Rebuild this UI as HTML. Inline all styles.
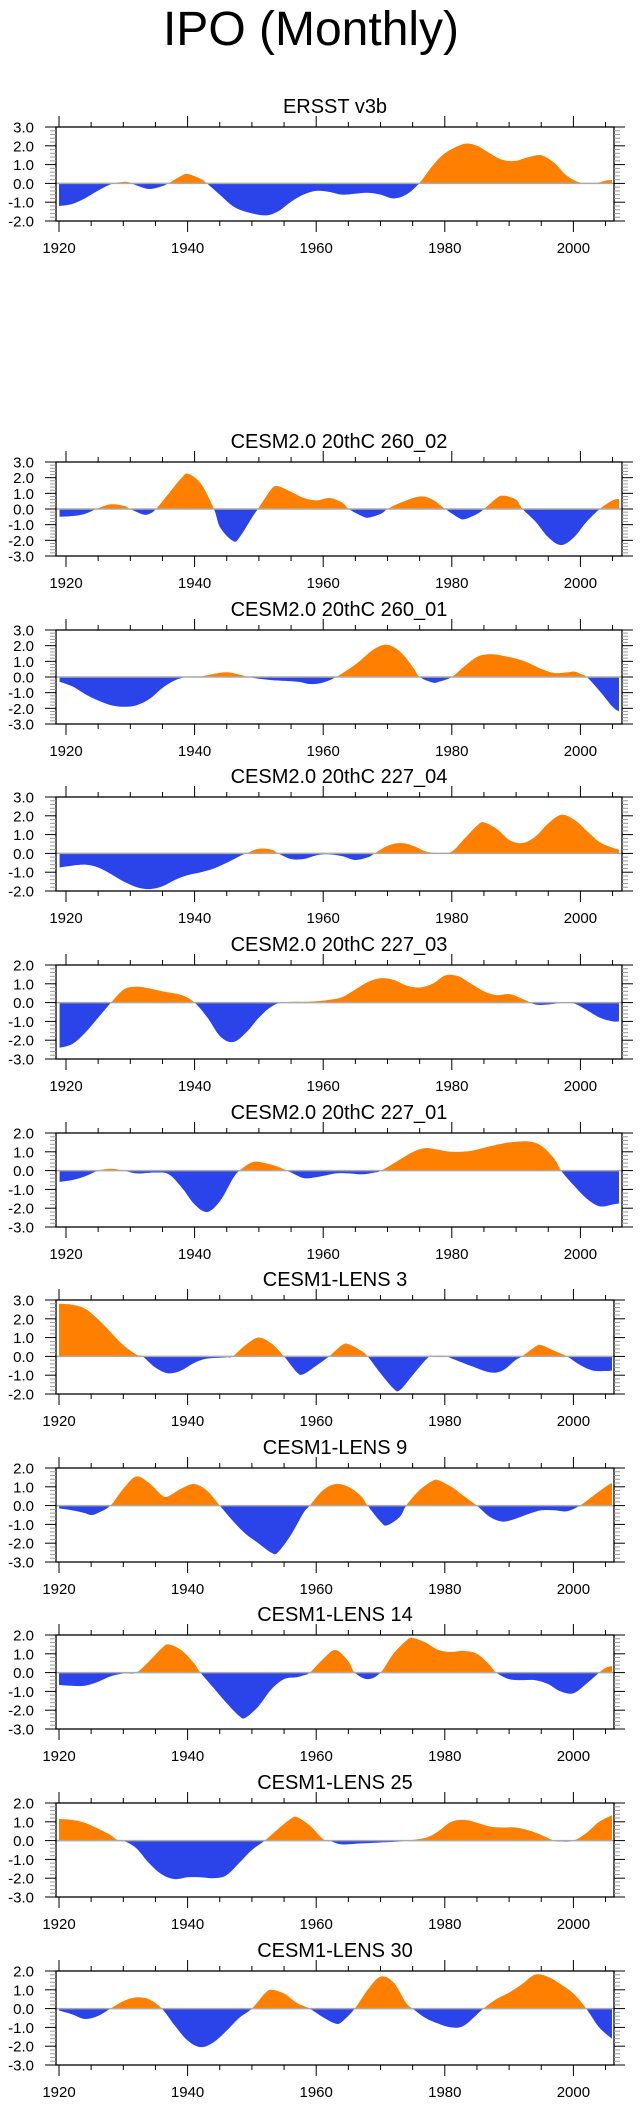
<!DOCTYPE html>
<html><head><meta charset="utf-8">
<style>
html,body{margin:0;padding:0;background:#fff;}
body{width:642px;height:2107px;overflow:hidden;font-family:"Liberation Sans",Arial,sans-serif;}
svg{display:block;}
text{font-family:"Liberation Sans",Arial,sans-serif;fill:#000;}
</style></head>
<body>
<svg id="chart" width="642" height="2107" viewBox="0 0 642 2107" xmlns="http://www.w3.org/2000/svg">
<text x="311" y="45" font-size="48" text-anchor="middle">IPO (Monthly)</text>
</svg>
<script>
const xTickYears = [1920, 1940, 1960, 1980, 2000];
const yTickValues = [-3, -2, -1, 0, 1, 2, 3];
const panelTitles = ["ERSST v3b","CESM2.0 20thC 260_02","CESM2.0 20thC 260_01","CESM2.0 20thC 227_04","CESM2.0 20thC 227_03","CESM2.0 20thC 227_01","CESM1-LENS 3","CESM1-LENS 9","CESM1-LENS 14","CESM1-LENS 25","CESM1-LENS 30"];
const panelYMax = [3,3,3,3,2,2,3,2,2,2,2];
const panelYMin = [-2,-3,-3,-2,-3,-3,-2,-3,-3,-3,-3];

const ersstYears = [1920,1922,1924,1926,1928,1930,1931,1932,1934,1936,1937,1939,1940,1942,1943,1945,1947,1949,1952,1954,1956,1958,1960,1962,1964,1966,1968,1970,1972,1974,1976,1978,1980,1983,1985,1987,1989,1991,1993,1995,1997,1999,2001,2003,2004,2005,2006];
const ersstValues = [-1.2,-1.1,-0.8,-0.4,-0.05,0.08,0.05,-0.1,-0.3,-0.15,0,0.4,0.5,0.25,0,-0.6,-1.2,-1.5,-1.7,-1.5,-1.0,-0.6,-0.4,-0.45,-0.6,-0.55,-0.5,-0.6,-0.8,-0.6,0,0.9,1.6,2.1,2.0,1.6,1.25,1.2,1.4,1.5,1.1,0.4,0.05,-0.02,0.05,0.15,0.18];

const c26002Years = [1919,1921,1923,1925,1927,1929,1930,1932,1933,1934,1936,1938,1939,1941,1943,1944,1946,1947,1949,1950,1952,1953,1955,1957,1959,1961,1963,1964,1966,1967,1969,1970,1972,1975,1977,1979,1981,1982,1984,1985,1987,1988,1990,1991,1993,1995,1997,1999,2001,2003,2005,2006];
const c26002Values = [-0.5,-0.45,-0.3,0.05,0.3,0.2,0,-0.35,-0.3,0,1.0,2.0,2.25,1.6,0,-1.2,-2.05,-1.8,-0.5,0.1,1.3,1.45,1.1,0.7,0.55,0.7,0.4,0,-0.45,-0.55,-0.3,0,0.4,0.8,0.6,0,-0.55,-0.65,-0.3,0,0.7,0.85,0.6,0,-0.8,-1.8,-2.3,-1.8,-0.8,0,0.55,0.65];

const c26001Years = [1919,1921,1923,1925,1927,1929,1931,1933,1935,1937,1939,1941,1943,1945,1947,1949,1952,1956,1958,1960,1962,1965,1968,1970,1972,1974,1975,1977,1978,1980,1982,1984,1986,1988,1991,1994,1996,1998,1999,2000,2001,2003,2005,2006];
const c26001Values = [-0.3,-0.6,-1.1,-1.5,-1.8,-1.9,-1.8,-1.4,-0.7,-0.2,0.02,0.05,0.2,0.3,0.15,-0.05,-0.2,-0.3,-0.45,-0.35,0,0.8,1.8,2.05,1.6,0.6,0,-0.35,-0.3,0,0.7,1.3,1.45,1.35,1.05,0.5,0.25,0.3,0.35,0.2,0,-0.9,-1.9,-2.2];

const c22704Years = [1919,1921,1923,1925,1927,1929,1931,1933,1935,1937,1939,1941,1943,1945,1947,1948,1950,1952,1953,1955,1957,1959,1961,1963,1965,1967,1968,1970,1972,1974,1976,1978,1980,1982,1984,1985,1987,1989,1991,1993,1995,1997,1999,2001,2003,2005,2006];
const c22704Values = [-0.75,-0.65,-0.6,-0.75,-1.1,-1.5,-1.8,-1.9,-1.75,-1.4,-1.15,-1.0,-0.8,-0.5,-0.15,0,0.25,0.2,0,-0.3,-0.3,-0.1,-0.05,-0.15,-0.35,-0.2,0,0.4,0.55,0.4,0.1,0.02,0.1,0.8,1.5,1.65,1.3,0.7,0.55,0.9,1.6,2.05,1.8,1.2,0.6,0.3,0.2];

const c22703Years = [1919,1921,1923,1925,1927,1929,1931,1933,1935,1938,1940,1942,1944,1946,1948,1950,1952,1954,1958,1961,1963,1965,1967,1969,1971,1973,1975,1977,1979,1981,1983,1985,1987,1989,1991,1993,1995,1997,1999,2001,2003,2005,2006];
const c22703Values = [-2.4,-2.2,-1.6,-0.8,0,0.7,0.85,0.75,0.6,0.4,0,-0.8,-1.8,-2.1,-1.6,-0.8,-0.2,0.02,0.05,0.15,0.3,0.7,1.1,1.3,1.2,0.9,0.8,1.0,1.45,1.4,1.0,0.6,0.4,0.45,0.2,-0.1,-0.1,-0.02,-0.05,-0.4,-0.8,-1.0,-1.0];

const c22701Years = [1919,1921,1923,1925,1927,1929,1931,1934,1936,1938,1940,1942,1944,1946,1947,1949,1951,1953,1955,1957,1959,1962,1964,1966,1968,1969,1972,1974,1976,1978,1980,1983,1986,1989,1992,1994,1996,1997,1999,2001,2003,2005,2006];
const c22701Values = [-0.6,-0.5,-0.3,0,0.1,0,-0.15,-0.1,-0.2,-0.9,-1.8,-2.2,-1.6,-0.4,0,0.45,0.4,0.2,-0.1,-0.4,-0.35,-0.15,-0.15,-0.2,-0.1,0,0.6,1.0,1.2,1.1,1.0,1.05,1.3,1.5,1.55,1.3,0.6,0,-0.8,-1.5,-1.9,-1.8,-1.75];

const lens3Years = [1920,1922,1924,1926,1928,1930,1932,1933,1935,1937,1939,1941,1943,1946,1947,1949,1951,1953,1955,1957,1958,1960,1962,1964,1965,1967,1968,1970,1972,1973,1975,1977,1978,1980,1981,1984,1987,1989,1991,1992,1994,1995,1997,1999,2001,2003,2005,2006];
const lens3Values = [2.8,2.75,2.55,2.0,1.3,0.6,0.1,0,-0.6,-0.9,-0.75,-0.35,-0.12,-0.05,0,0.6,1.0,0.7,0,-0.85,-0.95,-0.5,0,0.6,0.65,0.3,0,-0.9,-1.7,-1.8,-1.0,-0.2,0.02,0.02,-0.1,-0.5,-0.85,-0.75,-0.2,0,0.5,0.6,0.3,0,-0.45,-0.75,-0.78,-0.75];

const lens9Years = [1920,1922,1924,1925,1926,1928,1930,1932,1934,1936,1937,1939,1941,1943,1945,1947,1949,1951,1953,1954,1956,1958,1959,1961,1963,1965,1967,1968,1970,1971,1973,1974,1976,1978,1979,1981,1983,1985,1987,1989,1991,1993,1995,1997,1999,2001,2003,2005,2006];
const lens9Values = [-0.15,-0.25,-0.4,-0.5,-0.4,0,0.9,1.55,1.2,0.55,0.5,0.9,1.15,0.8,0,-0.8,-1.5,-2.0,-2.5,-2.5,-1.6,-0.4,0,0.8,1.15,1.0,0.5,0,-0.85,-1.05,-0.6,0,0.8,1.3,1.35,1.0,0.5,0,-0.6,-0.85,-0.7,-0.45,-0.25,-0.25,-0.3,0,0.5,1.0,1.2];

const lens14Years = [1920,1922,1924,1926,1928,1930,1932,1934,1936,1937,1939,1941,1942,1944,1946,1948,1949,1951,1953,1955,1957,1958,1959,1961,1963,1965,1966,1968,1970,1972,1974,1975,1977,1979,1981,1983,1985,1987,1988,1990,1992,1994,1996,1998,2000,2002,2004,2005,2006];
const lens14Values = [-0.65,-0.7,-0.7,-0.5,-0.2,-0.05,0,0.6,1.3,1.5,1.2,0.5,0,-0.8,-1.6,-2.3,-2.4,-1.8,-0.9,-0.35,-0.25,-0.15,0,0.7,1.2,0.6,0,-0.35,0,1.0,1.7,1.85,1.6,1.2,1.1,1.15,1.0,0.4,0,-0.35,-0.4,-0.4,-0.6,-1.0,-1.1,-0.6,0,0.25,0.35];

const lens25Years = [1920,1922,1924,1926,1928,1929,1930,1932,1934,1936,1938,1940,1942,1944,1946,1948,1950,1952,1954,1956,1957,1959,1961,1962,1964,1967,1970,1973,1974,1977,1979,1981,1983,1985,1987,1989,1991,1993,1995,1997,1998,2000,2002,2004,2006];
const lens25Values = [1.15,1.1,0.95,0.65,0.3,0.05,0,-0.4,-1.2,-1.8,-2.05,-1.95,-1.95,-2.0,-1.85,-1.2,-0.5,0,0.6,1.15,1.25,0.8,0.1,0,-0.2,-0.15,-0.1,-0.05,0,0.15,0.5,1.0,1.1,0.95,0.75,0.7,0.7,0.55,0.3,0,-0.05,0,0.4,1.0,1.35];

const lens30Years = [1920,1922,1924,1926,1928,1930,1932,1934,1936,1938,1940,1942,1944,1946,1948,1950,1952,1953,1955,1957,1959,1961,1963,1964,1966,1968,1970,1972,1974,1975,1977,1979,1981,1983,1986,1988,1990,1992,1994,1996,1998,2000,2002,2004,2006];
const lens30Values = [-0.1,-0.3,-0.55,-0.4,0,0.4,0.6,0.5,0,-0.9,-1.7,-2.05,-1.8,-1.2,-0.5,0,0.8,1.0,0.8,0.3,0,-0.45,-0.8,-0.7,0,1.0,1.7,1.4,0.3,0,-0.5,-0.8,-1.0,-0.9,0,0.5,0.85,1.3,1.8,1.7,1.3,0.8,0,-1.0,-1.6];

const seriesYears = [ersstYears,c26002Years,c26001Years,c22704Years,c22703Years,c22701Years,lens3Years,lens9Years,lens14Years,lens25Years,lens30Years];
const seriesValues = [ersstValues,c26002Values,c26001Values,c22704Values,c22703Values,c22701Values,lens3Values,lens9Values,lens14Values,lens25Values,lens30Values];

const NS = "http://www.w3.org/2000/svg";
const svg = document.getElementById("chart");
const frameTops = [127,462,630,797,965,1133,1300,1468,1635,1803,1971];
const FRAME_H = 94;
const layouts = {
  A: {left:56, right:614, x1920:59, perYear:6.43, start:1920, end:2006},
  B: {left:56, right:622, x1920:66, perYear:6.43, start:1919, end:2006}
};
const panelLayout = ["A","B","B","B","B","B","A","A","A","A","A"];
const ORANGE = "#ff8000", BLUE = "#2a44ea";

function mk(tag, attrs, parent){
  const e = document.createElementNS(NS, tag);
  for (const k in attrs) e.setAttribute(k, attrs[k]);
  (parent||svg).appendChild(e);
  return e;
}

function smoothPath(pts){
  let d = "";
  for (let i=0;i<pts.length-1;i++){
    const p0 = pts[Math.max(0,i-1)], p1 = pts[i], p2 = pts[i+1], p3 = pts[Math.min(pts.length-1,i+2)];
    const c1x = p1[0]+(p2[0]-p0[0])/6, c1y = p1[1]+(p2[1]-p0[1])/6;
    const c2x = p2[0]-(p3[0]-p1[0])/6, c2y = p2[1]-(p3[1]-p1[1])/6;
    d += " C"+c1x.toFixed(2)+","+c1y.toFixed(2)+" "+c2x.toFixed(2)+","+c2y.toFixed(2)+" "+p2[0].toFixed(2)+","+p2[1].toFixed(2);
  }
  return d;
}

for (let p=0;p<panelTitles.length;p++){
  const L = layouts[panelLayout[p]];
  const top = frameTops[p], bottom = top + FRAME_H;
  const ymax = panelYMax[p], ymin = panelYMin[p];
  const xs = yr => L.x1920 + (yr-1920)*L.perYear;
  const ys = v => top + (ymax - v)/(ymax - ymin)*FRAME_H;
  const g = mk("g", {});
  
  

  const t = mk("text", {x:(L.left+L.right)/2, y: top-14, "font-size":20, "text-anchor":"middle"}, g);
  t.textContent = panelTitles[p];
  
  

  // area
  const yrs = seriesYears[p], vals = seriesValues[p];
  const pts = yrs.map((y,i)=>[xs(y), ys(vals[i])]);
  const z = ys(0);
  const d = "M"+pts[0][0].toFixed(2)+","+z+" L"+pts[0][0].toFixed(2)+","+pts[0][1].toFixed(2)+smoothPath(pts)+" L"+pts[pts.length-1][0].toFixed(2)+","+z+" Z";
  const cpPos = mk("clipPath", {id:"cpos"+p}, g);
  mk("rect", {x:0, y:top, width:642, height:z-top}, cpPos);
  const cpNeg = mk("clipPath", {id:"cneg"+p}, g);
  mk("rect", {x:0, y:z, width:642, height:bottom-z}, cpNeg);
  const pos = mk("path", {d:d, fill:ORANGE, "clip-path":"url(#cpos"+p+")"}, g);
  
  
  const neg = mk("path", {d:d, fill:BLUE, "clip-path":"url(#cneg"+p+")"}, g);
  
  

  const zl = mk("line", {x1:L.left, x2:L.right, y1:z, y2:z, stroke:"#aaaaaa", "stroke-width":1.5}, g);
  
  

  const fr = mk("rect", {x:L.left, y:top, width:L.right-L.left, height:FRAME_H, fill:"none", stroke:"#000", "stroke-width":1.3}, g);
  
  

  // y ticks
  for (let v=ymin; v<=ymax+1e-9; v+=0.2){
    const yy = ys(v);
    const major = Math.abs(v-Math.round(v))<1e-6;
    const len = major ? 11 : 6;
    const col = major ? "#000" : "#999";
    mk("line", {x1:L.left-len, x2:L.left, y1:yy, y2:yy, stroke:col, "stroke-width":1}, g);
    mk("line", {x1:L.right, x2:L.right+len, y1:yy, y2:yy, stroke:col, "stroke-width":1}, g);
  }
  yTickValues.filter(v=>v>=ymin && v<=ymax).forEach(v=>{
    const lb = mk("text", {x:34, y:ys(v)+5.5, "font-size":15, "text-anchor":"end"}, g);
    lb.textContent = v.toFixed(1);
    
    
  });
  // x ticks
  for (let yr=1920; yr<=2005; yr+=5){
    const xx = xs(yr);
    const major = yr%20===0;
    const len = major ? 11 : 5;
    mk("line", {x1:xx, x2:xx, y1:top-len, y2:top, stroke:"#000", "stroke-width":1}, g);
    mk("line", {x1:xx, x2:xx, y1:bottom, y2:bottom+len, stroke:"#000", "stroke-width":1}, g);
  }
  xTickYears.forEach(yr=>{
    const lb = mk("text", {x:xs(yr), y:bottom+32, "font-size":15, "text-anchor":"middle"}, g);
    lb.textContent = String(yr);
    
    
  });
}
</script>
</body></html>
